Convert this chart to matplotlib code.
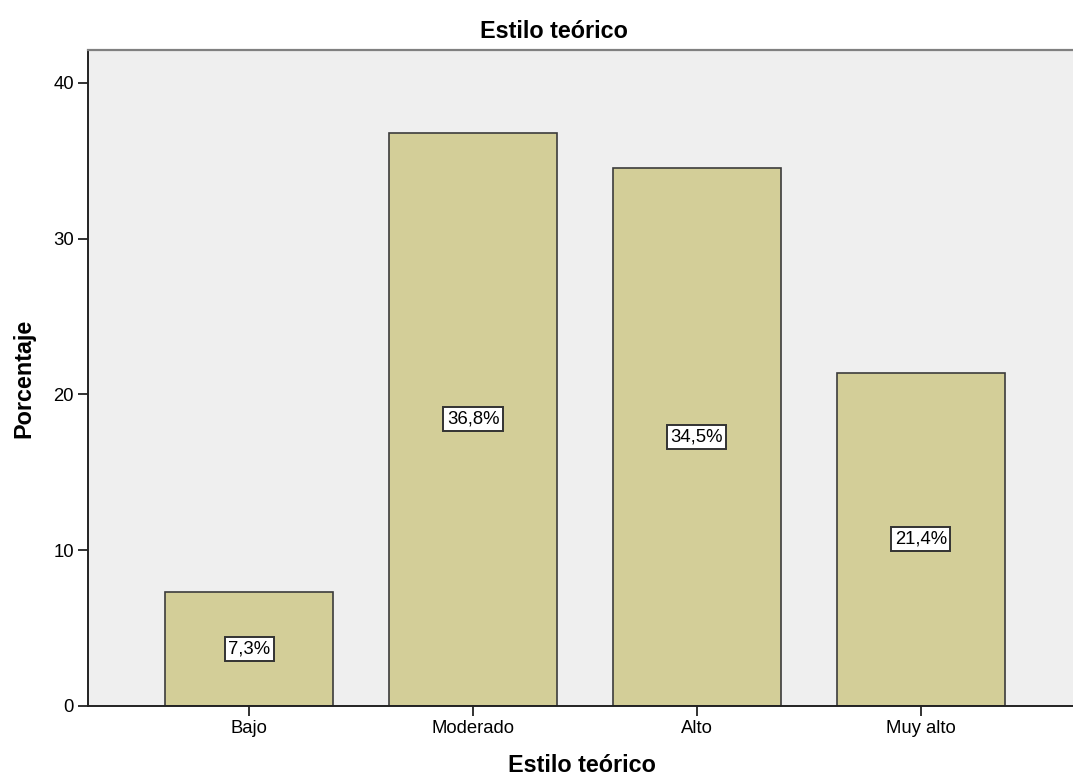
import numpy as np
import matplotlib.pyplot as plt

plt.rcParams['font.family'] = ['Liberation Sans', 'DejaVu Sans']

categories = ['Bajo', 'Moderado', 'Alto', 'Muy alto']
values = [7.3, 36.8, 34.5, 21.4]
labels = ['7,3%', '36,8%', '34,5%', '21,4%']
yticks = [0, 10, 20, 30, 40]

fig = plt.figure(figsize=(10.73, 7.77), dpi=100)
ax = fig.add_axes([88/1073, 1-706/777, 1-88/1073+0.002, (706-50)/777])
ax.set_facecolor('#efefef')

x = np.arange(len(categories))
ax.bar(x, values, width=0.75, color='#d3ce98', edgecolor='#3c3c3c', linewidth=1.2, zorder=2)

for xi, v, lab in zip(x, values, labels):
    ax.text(xi, v/2, lab, ha='center', va='center', fontsize=13.3, zorder=3,
            bbox=dict(boxstyle='square,pad=0.18', fc='white', ec='#333333', lw=1.4))

ax.set_xlim(-0.72, 3.69)
ax.set_ylim(0, 42.1)
ax.set_xticks(x)
ax.set_xticklabels(categories, fontsize=13.3)
ax.set_yticks(yticks)
ax.set_yticklabels([str(t) for t in yticks], fontsize=13.3)
ax.tick_params(axis='both', direction='out', length=7, width=1.3, color='#222222', pad=3)

for s in ['left', 'bottom']:
    ax.spines[s].set_color('#222222')
    ax.spines[s].set_linewidth(1.4)
ax.spines['top'].set_color('#808080')
ax.spines['top'].set_linewidth(1.6)
ax.spines['right'].set_visible(False)

fig.text(554/1073, 1-32/777, 'Estilo teórico', fontsize=16.8, fontweight='bold', ha='center', va='center')
ax.set_xlabel('Estilo teórico', fontsize=16.8, fontweight='bold', labelpad=12)
ax.set_ylabel('Porcentaje', fontsize=16.8, fontweight='bold', labelpad=13)

fig.savefig('out.png', dpi=100)
